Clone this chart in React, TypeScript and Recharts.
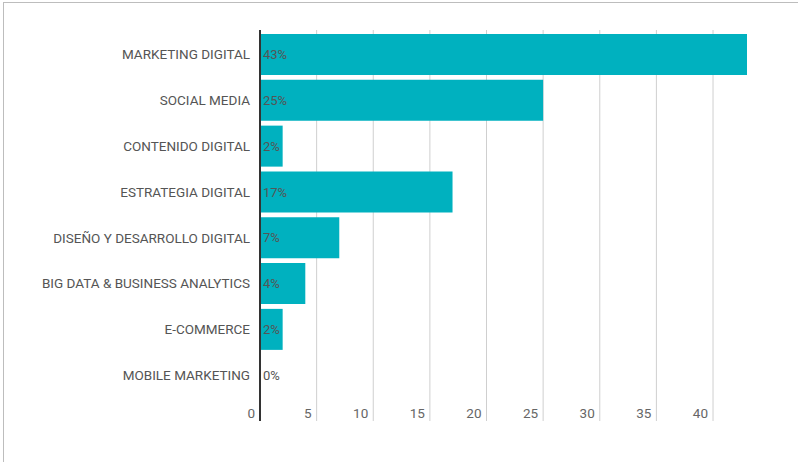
import { BarChart, Bar, XAxis, YAxis, CartesianGrid, LabelList } from "recharts";

const categories = [
  "MARKETING DIGITAL",
  "SOCIAL MEDIA",
  "CONTENIDO DIGITAL",
  "ESTRATEGIA DIGITAL",
  "DISEÑO Y DESARROLLO DIGITAL",
  "BIG DATA & BUSINESS ANALYTICS",
  "E-COMMERCE",
  "MOBILE MARKETING",
];
const values = [43, 25, 2, 17, 7, 4, 2, 0];
const xTicks = [0, 5, 10, 15, 20, 25, 30, 35, 40];

const data = categories.map((name, i) => ({ name, value: values[i] }));

const FONT = "Roboto, 'Noto Sans', sans-serif";

// tick label sits left of the grid line, just above the bottom
const XTick = (props: any) => {
  const { x, y, payload } = props;
  return (
    <text x={x - 5} y={y - 3} textAnchor="end" fontSize={13.5} fill="#666" fontFamily={FONT}>
      {payload.value}
    </text>
  );
};

// plain text, no wrapping
const YTick = (props: any) => {
  const { x, y, payload } = props;
  return (
    <text x={x} y={y} dy={5} textAnchor="end" fontSize={13.5} fill="#555" fontFamily={FONT}>
      {payload.value}
    </text>
  );
};

export default function App() {
  return (
    <div style={{ position: "absolute", left: 0, top: 0, width: 798, height: 462, overflow: "hidden", background: "#fff" }}>
      <div
        style={{
          position: "absolute",
          left: 3,
          top: 2,
          width: 820,
          height: 480,
          borderTop: "1px solid #bdbdbd",
          borderLeft: "1px solid #bdbdbd",
        }}
      />
      <div style={{ position: "absolute", left: 0, top: 0 }}>
        <BarChart
          width={798}
          height={462}
          data={data}
          layout="vertical"
          margin={{ top: 30, right: 51, bottom: 40, left: 0 }}
          barCategoryGap={2.5}
        >
          <CartesianGrid horizontal={false} stroke="#cfcfcf" syncWithTicks />
          <XAxis
            type="number"
            domain={[0, 43]}
            ticks={xTicks}
            allowDataOverflow
            axisLine={false}
            tickLine={false}
            tickSize={0}
            tickMargin={0}
            height={1}
            tick={<XTick />}
          />
          <YAxis
            type="category"
            dataKey="name"
            width={260}
            tickLine={false}
            tickSize={8}
            tickMargin={2}
            axisLine={{ stroke: "#333", strokeWidth: 2 }}
            padding={{ top: 1.5, bottom: 23 }}
            tick={<YTick />}
            interval={0}
          />
          <Bar dataKey="value" fill="#00B1BF" minPointSize={0.01} isAnimationActive={false}>
            <LabelList
              dataKey="value"
              position="insideLeft"
              offset={3}
              formatter={(v: any) => `${v}%`}
              style={{ fontSize: 13, fill: "#555", fontFamily: FONT }}
            />
          </Bar>
        </BarChart>
      </div>
    </div>
  );
}
